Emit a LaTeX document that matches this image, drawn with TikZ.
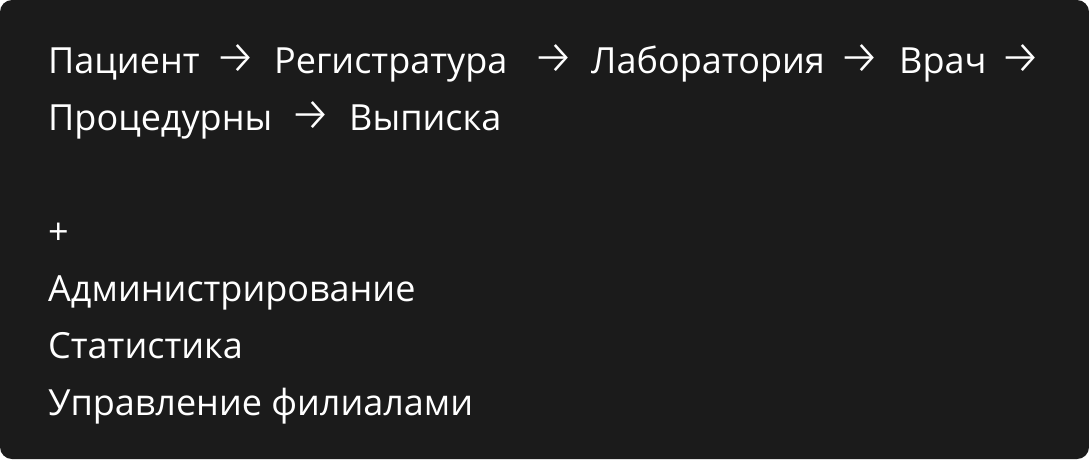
\documentclass[tikz,border=0pt]{standalone}
\usepackage{fontspec}
\setmainfont{Open Sans}
\newfontfamily\arrowfont{Fira Sans Light}
\definecolor{panel}{HTML}{1B1B1B}
\begin{document}
\begin{tikzpicture}[x=1pt,y=-1pt,
  txt/.style={anchor=base west, text=white, inner sep=0pt, font=\fontsize{36}{43}\selectfont},
  arr/.style={anchor=center, text=white, inner sep=0pt, font=\arrowfont\fontsize{47}{56}\selectfont}]
\fill[white] (0,0) rectangle (1089,459);
\fill[panel, rounded corners=12pt] (0,0) rectangle (1089,459);
\useasboundingbox (0,0) rectangle (1089,459);
% line 1
\node[txt] (w1) at (48,73) {Пациент};
\node[arr] (a1) at (235.5,59) {→};
\node[txt] (w2) at (274,73) {Регистратура};
\node[arr] (a2) at (553.5,59) {→};
\node[txt] (w3) at (591,73) {Лаборатория};
\node[arr] (a3) at (860,59) {→};
\node[txt] (w4) at (899,73) {Врач};
\node[arr] (a4) at (1020.5,59) {→};
% line 2
\node[txt] (w5) at (48,130) {Процедурны};
\node[arr] (a5) at (311,116) {→};
\node[txt] (w6) at (349,130) {Выписка};
% list
\node[txt] (plus) at (48,244) {+};
\node[txt] (l1) at (48,301) {Администрирование};
\node[txt] (l2) at (48,358) {Статистика};
\node[txt] (l3) at (48,415) {Управление филиалами};
\end{tikzpicture}
\end{document}
